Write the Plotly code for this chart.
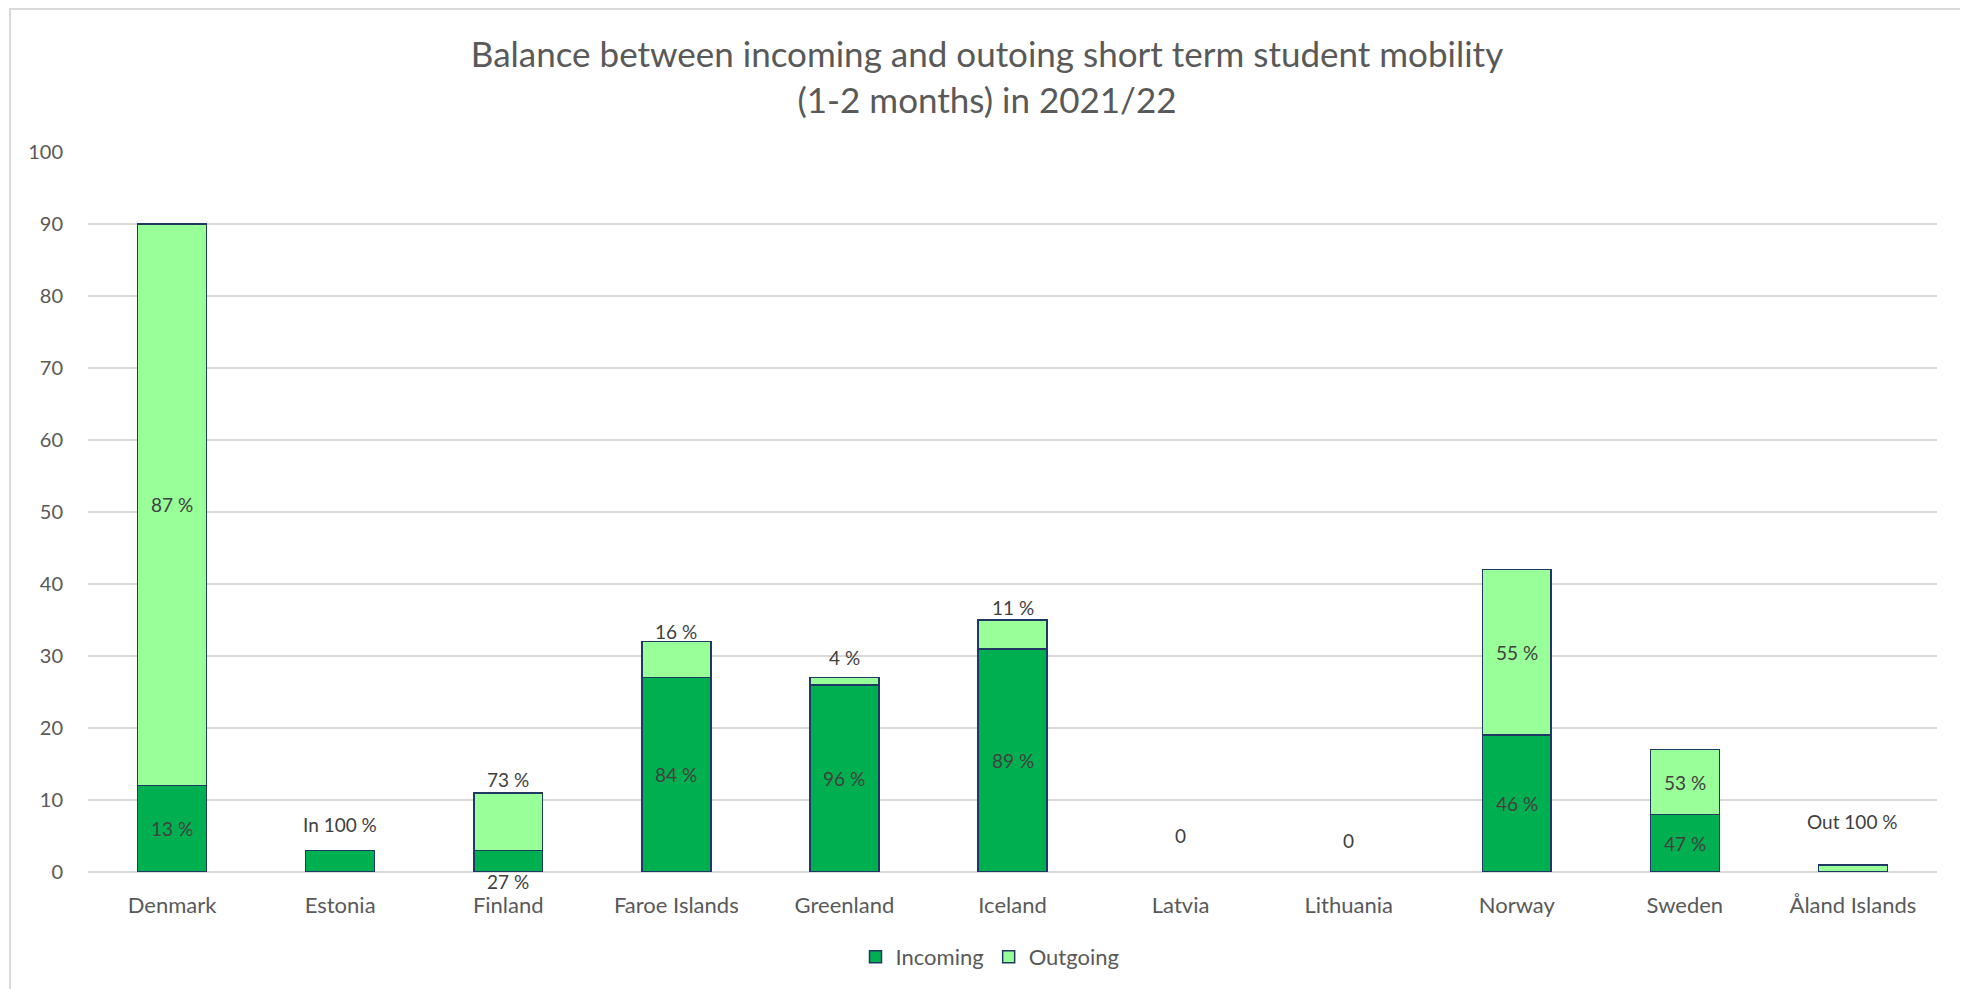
import plotly.graph_objects as go

countries = ["Denmark", "Estonia", "Finland", "Faroe Islands", "Greenland", "Iceland",
             "Latvia", "Lithuania", "Norway", "Sweden", "Åland Islands"]
incoming = [12, 3, 3, 27, 26, 31, 0, 0, 19, 8, 0]
outgoing = [78, 0, 8, 5, 1, 4, 0, 0, 23, 9, 1]
incoming_labels = ["13 %", "In 100 %", "27 %", "84 %", "96 %", "89 %", "0", "0", "46 %", "47 %", ""]
outgoing_labels = ["87 %", "", "73 %", "16 %", "4 %", "11 %", "", "", "55 %", "53 %", "Out 100 %"]
y_ticks = [0, 10, 20, 30, 40, 50, 60, 70, 80, 90, 100]

# label placement (styles): pixel shifts for labels drawn outside the bars
outside_shift = {
    ("Estonia", "in"): 26, ("Finland", "in"): -9, ("Finland", "out"): 13,
    ("Faroe Islands", "out"): 10, ("Greenland", "out"): 20, ("Iceland", "out"): 13,
    ("Latvia", "in"): 37, ("Lithuania", "in"): 32, ("Åland Islands", "out"): 43,
}

FONT = "Lato"
OFF = 8  # default body margin of the html page
W, H = 1968 - OFF, 989 - OFF
# plot area in page pixels: x 88..1937, y 152..872
L, T = 88 - OFF, 152 - OFF
R = W - (1937 - OFF)
B = H - (872 - OFF)
PW, PH = 1937 - 88, 872 - 152
line_col = "#203864"


def line_widths(vals):
    return [0 if v == 0 else 1.5 for v in vals]


fig = go.Figure()
fig.add_trace(go.Bar(name="Incoming", x=countries, y=incoming, width=0.41,
                     marker=dict(color="#00B050", line=dict(color=line_col, width=line_widths(incoming)))))
fig.add_trace(go.Bar(name="Outgoing", x=countries, y=outgoing, width=0.41,
                     marker=dict(color="#99FF99", line=dict(color=line_col, width=line_widths(outgoing)))))

annotations = []
for i, c in enumerate(countries):
    total = incoming[i] + outgoing[i]
    for key, txt, base, val in (("in", incoming_labels[i], 0, incoming[i]),
                                ("out", outgoing_labels[i], incoming[i], outgoing[i])):
        if not txt:
            continue
        if (c, key) in outside_shift:
            s = outside_shift[(c, key)]
            y = total if s > 0 else 0
        else:
            s = 0
            y = base + val / 2
        annotations.append(dict(x=c, y=y, xref="x", yref="y", text=txt, showarrow=False,
                                yshift=s, yanchor="middle",
                                font=dict(family=FONT, size=19, color="#404040")))

fig.update_layout(
    width=W, height=H,
    margin=dict(l=L, r=R, t=T, b=B, autoexpand=False),
    paper_bgcolor="white", plot_bgcolor="white",
    barmode="stack",
    title=dict(text="Balance between incoming and outoing short term student mobility<br>(1-2 months) in 2021/22",
               x=(987 - OFF) / W, xanchor="center", y=1 - 59 / H, yanchor="middle", yref="container",
               font=dict(family=FONT, size=35, color="#595959")),
    xaxis=dict(range=[-0.5, 10.5], showgrid=False, showline=False, ticks="",
               ticklabelstandoff=18,
               tickfont=dict(family=FONT, size=22, color="#595959")),
    yaxis=dict(range=[0, 100], tickvals=y_ticks, showgrid=True, gridcolor="#D9D9D9", gridwidth=1.5,
               zeroline=True, zerolinecolor="#D9D9D9", zerolinewidth=1.5, showline=False, ticks="",
               ticklabelstandoff=24,
               tickfont=dict(family=FONT, size=20, color="#595959")),
    legend=dict(orientation="h", x=(990 - 88) / PW, xanchor="center", y=-(957 - 872) / PH, yanchor="middle",
                font=dict(family=FONT, size=22, color="#595959"), traceorder="normal"),
    showlegend=True,
    annotations=annotations,
    shapes=[dict(type="rect", xref="paper", yref="paper",
                 x0=(10 - 88) / PW, x1=(1966 - 88) / PW, y0=-(1000 - 872) / PH, y1=(872 - 9) / PH,
                 line=dict(color="#D9D9D9", width=2), fillcolor="rgba(0,0,0,0)", layer="below")],
)
fig.write_html("out.html")
